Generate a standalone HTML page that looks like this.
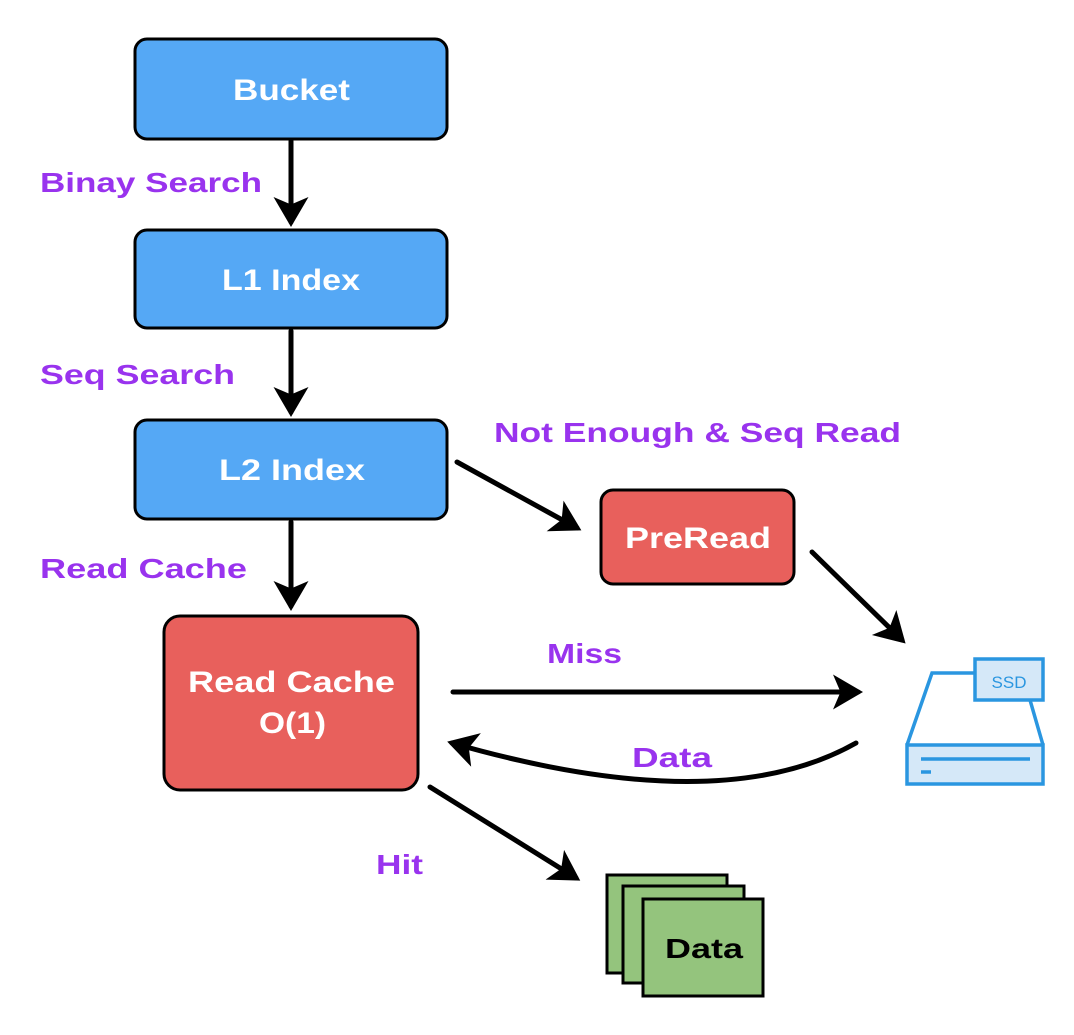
<!DOCTYPE html>
<html><head><style>body{margin:0;background:#fff}</style></head><body>
<svg width="1074" height="1030" viewBox="0 0 1074 1030" xmlns="http://www.w3.org/2000/svg" font-family="Liberation Sans, sans-serif" font-weight="bold">
<defs><marker id="a" markerWidth="8" markerHeight="8" refX="5" refY="4" orient="auto" markerUnits="strokeWidth"><path d="M0,0.5 L6,4 L0,7.5 L1.5,4 Z" fill="#000"/></marker></defs>
<g stroke="#000" stroke-width="3">
<rect x="135" y="39" width="312" height="100" rx="12" fill="#55a8f5"/>
<rect x="135" y="230" width="312" height="98" rx="12" fill="#55a8f5"/>
<rect x="135" y="420" width="312" height="99" rx="12" fill="#55a8f5"/>
<rect x="164" y="616" width="254" height="174" rx="16" fill="#e8605c"/>
<rect x="601" y="490" width="193" height="94" rx="12" fill="#e8605c"/>
<rect x="607" y="875" width="120" height="98" fill="#94c47d"/>
<rect x="623" y="886" width="121" height="97" fill="#94c47d"/>
<rect x="643" y="899" width="120" height="97" fill="#94c47d"/>
</g>
<g stroke="#000" stroke-width="5" fill="none" marker-end="url(#a)" stroke-linecap="round">
<line x1="291" y1="141" x2="291" y2="222"/>
<line x1="291" y1="331" x2="291" y2="412"/>
<line x1="291" y1="522" x2="291" y2="606"/>
<line x1="457" y1="462" x2="577" y2="528"/>
<line x1="812" y1="552" x2="902" y2="640"/>
<line x1="453" y1="692" x2="858" y2="692"/>
<path d="M856,743 Q720,820 452,743"/>
<line x1="430" y1="787" x2="576" y2="878"/>
</g>
<g fill="#fff" font-size="30">
<text x="233" y="100" textLength="117" lengthAdjust="spacingAndGlyphs">Bucket</text>
<text x="222" y="290" textLength="138" lengthAdjust="spacingAndGlyphs">L1 Index</text>
<text x="219" y="480" textLength="146" lengthAdjust="spacingAndGlyphs">L2 Index</text>
<text x="188" y="692" textLength="207" lengthAdjust="spacingAndGlyphs">Read Cache</text>
<text x="259" y="733" textLength="67" lengthAdjust="spacingAndGlyphs">O(1)</text>
<text x="625" y="548" textLength="146" lengthAdjust="spacingAndGlyphs">PreRead</text>
</g>
<text x="665" y="958" font-size="28" fill="#000" textLength="78" lengthAdjust="spacingAndGlyphs">Data</text>
<g fill="#9933ee" font-size="28">
<text x="40" y="192" textLength="222" lengthAdjust="spacingAndGlyphs">Binay Search</text>
<text x="40" y="384" textLength="195" lengthAdjust="spacingAndGlyphs">Seq Search</text>
<text x="40" y="578" textLength="207" lengthAdjust="spacingAndGlyphs">Read Cache</text>
<text x="494" y="442" textLength="407" lengthAdjust="spacingAndGlyphs">Not Enough &amp; Seq Read</text>
<text x="547" y="663" textLength="75" lengthAdjust="spacingAndGlyphs">Miss</text>
<text x="632" y="767" textLength="80" lengthAdjust="spacingAndGlyphs">Data</text>
<text x="376" y="874" textLength="47" lengthAdjust="spacingAndGlyphs">Hit</text>
</g>
<g stroke="#2a96e0" stroke-width="3.5" fill="none">
<path d="M975,673 L932,673 L907,745 M1030,700 L1043,745" />
<rect x="907" y="745" width="136" height="39" fill="#d5e8f8"/>
<rect x="975" y="659" width="68" height="41" fill="#d5e8f8"/>
<line x1="921" y1="759" x2="1030" y2="759"/>
<line x1="921" y1="772" x2="931" y2="772"/>
</g>
<text x="1009" y="688" font-size="17" font-weight="normal" fill="#2a96e0" text-anchor="middle">SSD</text>
</svg>
</body></html>
